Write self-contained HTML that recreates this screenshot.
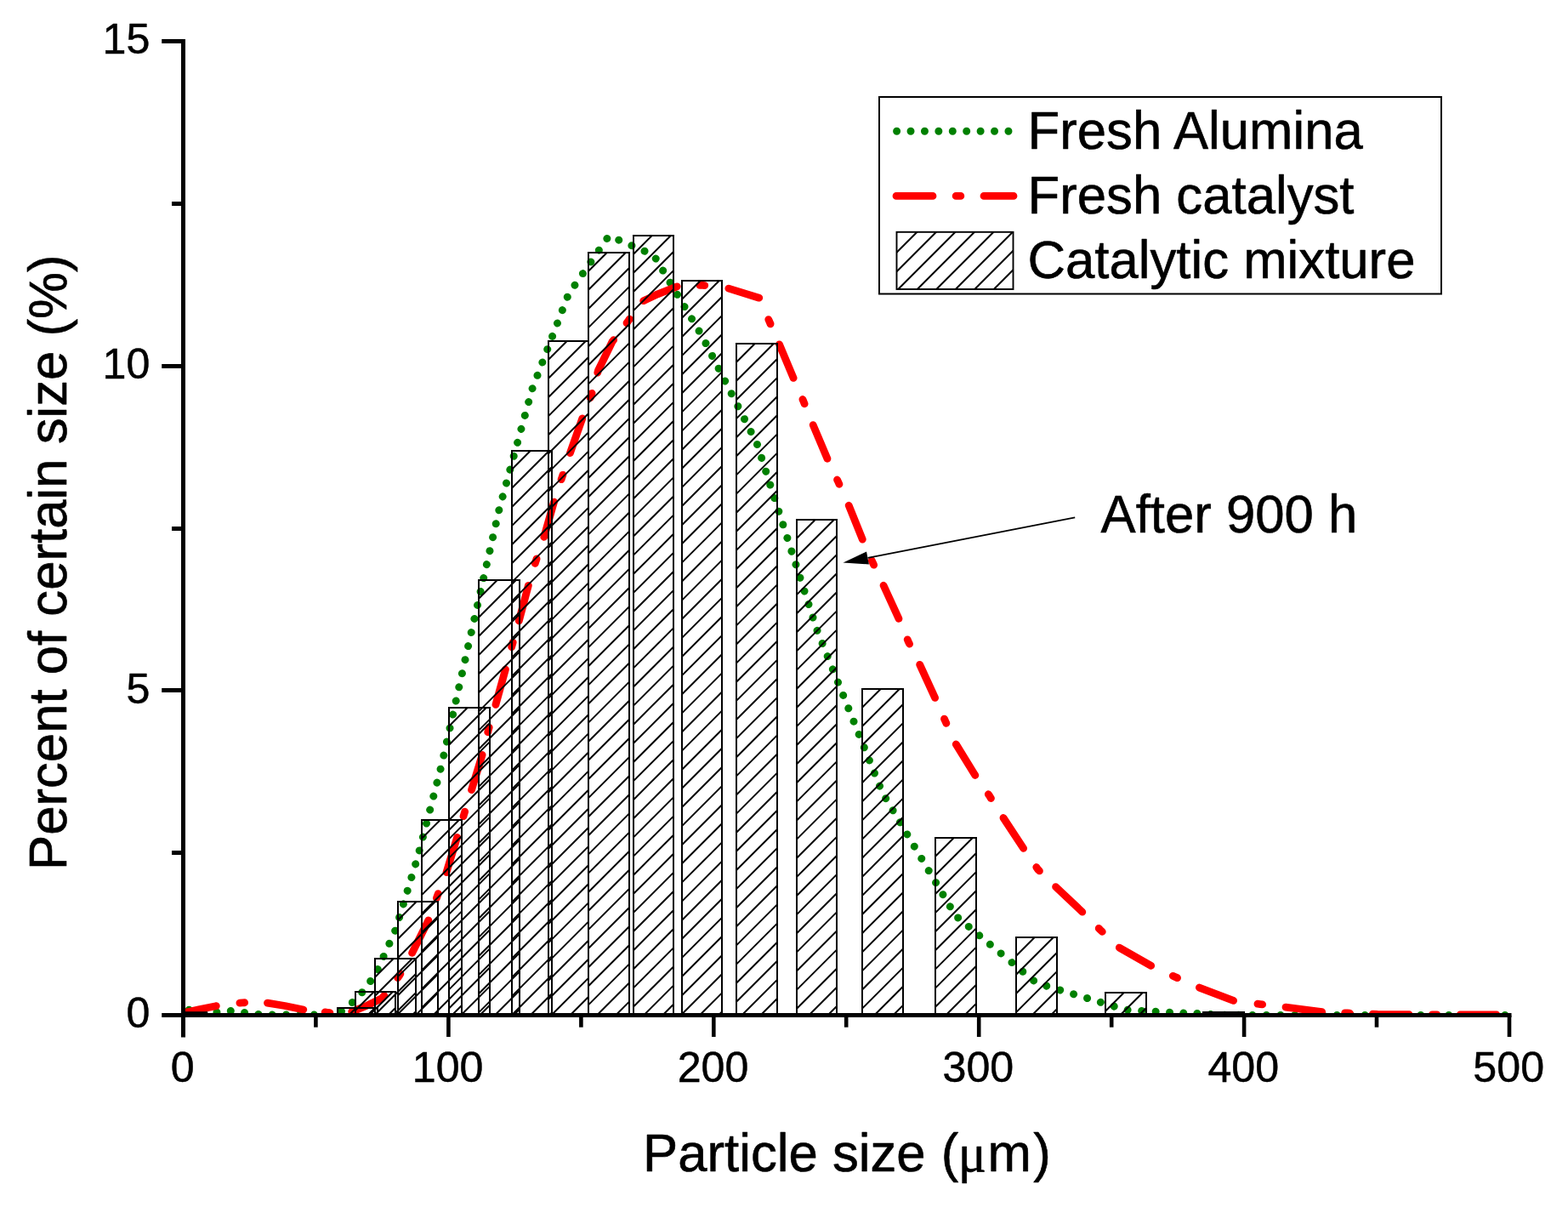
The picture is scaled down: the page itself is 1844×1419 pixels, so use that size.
<!DOCTYPE html>
<html lang="en"><head><meta charset="utf-8"><title>Particle size distribution</title>
<style>
html,body{margin:0;padding:0;background:#fff;}
body{width:1844px;height:1419px;overflow:hidden;}
svg{display:block;}
</style></head><body>
<svg width="1844" height="1419" viewBox="0 0 1844 1419">
<rect x="0" y="0" width="1844" height="1419" fill="#fff"/>
<defs><clipPath id="plot"><rect x="215.5" y="0" width="1561.5" height="1194.5"/></clipPath></defs>
<g clip-path="url(#plot)" fill="none" stroke-linecap="round" stroke-linejoin="round">
<path d="M215.5,1186.6 L222.4,1187.2 L239.0,1189.0 L255.3,1190.0 L271.3,1188.5 L287.6,1190.5 L303.9,1192.4 L320.4,1193.0 L336.7,1193.0 L369.2,1193.0 L385.0,1192.6 L401.5,1189.0 L420.5,1173.6 L441.4,1146.0 L465.2,1093.0 L491.4,1007.0 L519.5,898.7 L552.0,753.4 L587.0,599.0 L625.7,457.8 L668.5,346.0 L716.1,277.2 L768.7,299.8 L825.6,395.0 L890.0,521.0 L960.5,740.0 L1037.7,932.0 L1123.7,1076.5 L1218.7,1155.5 L1323.7,1187.2 L1343.0,1188.4 L1359.4,1189.2 L1375.5,1190.2 L1392.4,1191.1 L1408.4,1191.4 L1425.0,1192.6 L1438.7,1193.2 L1471.0,1193.4 L1775.0,1193.5" stroke="#008000" stroke-width="9" stroke-dasharray="0.01 16.37 0.01 16.37 0.01 16.43 0.01 16.40 0.01 16.35 0.01 16.30 0.01 16.39 0.01 16.43 0.01 16.37 0.01 16.22 0.01 16.32 0.01 16.50 0.01 16.56 0.01 16.51 0.01 16.48 0.01 16.61 0.01 16.57 0.01 16.55 0.01 16.41 0.01 16.36 0.01 16.37 0.01 16.36 0.01 16.36 0.01 16.53 0.01 16.48 0.01 16.49 0.01 16.52 0.01 16.50 0.01 16.45 0.01 16.48 0.01 16.51 0.01 16.43 0.01 16.41 0.01 16.39 0.01 16.42 0.01 16.54 0.01 16.50 0.01 16.43 0.01 16.50 0.01 16.44 0.01 16.46 0.01 16.40 0.01 16.36 0.01 16.32 0.01 16.34 0.01 16.35 0.01 16.38 0.01 16.36 0.01 16.38 0.01 16.44 0.01 16.46 0.01 16.41 0.01 16.47 0.01 16.50 0.01 16.52 0.01 16.51 0.01 16.45 0.01 16.43 0.01 16.50 0.01 16.41 0.01 16.41 0.01 16.37 0.01 16.43 0.01 16.46 0.01 16.54 0.01 16.52 0.01 16.56 0.01 16.63 0.01 16.69 0.01 16.67 0.01 16.58 0.01 16.51 0.01 16.44 0.01 16.53 0.01 16.41 0.01 16.40 0.01 16.47 0.01 16.55 0.01 16.57 0.01 16.63 0.01 16.56 0.01 16.61 0.01 16.62 0.01 16.53 0.01 16.60 0.01 16.76 0.01 16.82 0.01 16.69 0.01 16.74 0.01 16.63 0.01 16.67 0.01 16.57 0.01 16.35 0.01 16.39 0.01 16.39 0.01 16.39 0.01 16.47 0.01 16.40 0.01 16.33 0.01 16.44 0.01 16.25 0.01 16.33 0.01 16.15 0.01 16.28 0.01 16.31 0.01 16.43 0.01 16.46 0.01 16.47 0.01 16.51 0.01 16.61 0.01 16.46 0.01 16.47 0.01 16.35 0.01 16.23 0.01 16.31 0.01 16.30 0.01 16.37 0.01 16.29 0.01 16.46 0.01 16.52 0.01 16.55 0.01 16.51 0.01 16.38 0.01 16.29 0.01 16.42 0.01 16.30 0.01 16.34 0.01 16.32 0.01 16.36 0.01 16.54 0.01 16.73 0.01 16.67 0.01 16.64 0.01 16.58 0.01 16.67 0.01 16.63 0.01 16.64 0.01 16.52 0.01 16.51 0.01 16.51 0.01 16.59 0.01 16.50 0.01 16.41 0.01 16.22 0.01 16.09 0.01 15.99 0.01 16.42 0.01 16.37 0.01 16.28 0.01 16.43 0.01 16.58 0.01 16.74 0.01 16.83 0.01 16.38 0.01 16.34 0.01 16.47 0.01 16.42 0.01 16.38 0.01 16.36 0.01 16.41 0.01 16.45 0.01 16.48 0.01 16.50 0.01 16.53 0.01 16.51 0.01 16.51 0.01 16.50 0.01 5000" stroke-dashoffset="-6.87"/>
<path d="M215.5,1191.0 L235.0,1186.5 L254.0,1182.7 L270.0,1180.0 L285.0,1178.8 L300.0,1178.6 L314.0,1179.0 L335.0,1182.5 L357.0,1187.0 L386.5,1190.5 L400.0,1191.3 L414.7,1189.1 L432.0,1182.0 L449.4,1173.5 L469.4,1147.4 L484.1,1121.4 L504.1,1081.5 L514.5,1052.8 L524.9,1025.9 L537.9,983.4 L544.9,960.0 L567.6,886.0 L574.5,857.5 L583.2,827.5 L594.5,786.7 L602.3,758.4 L610.9,727.7 L621.3,688.6 L629.7,661.0 L639.8,631.3 L651.9,588.8 L661.0,561.0 L670.2,533.3 L684.9,491.6 L695.7,463.8 L703.5,435.5 L720.0,401.7 L738.0,378.5 L755.0,354.5 L773.4,345.8 L796.7,336.6 L826.6,335.3 L855.9,338.8 L892.8,350.2 L904.3,376.8 L916.2,404.2 L933.7,445.8 L944.9,471.8 L956.2,499.6 L973.2,539.8 L985.5,566.0 L998.0,593.8 L1014.5,634.6 L1026.6,662.0 L1038.7,687.5 L1057.0,727.4 L1068.2,754.3 L1081.3,780.5 L1099.7,820.7 L1111.8,848.0 L1124.0,874.5 L1146.5,911.0 L1163.9,936.1 L1180.0,961.5 L1204.0,998.0 L1220.5,1022.0 L1240.5,1041.6 L1273.5,1072.8 L1293.9,1093.1 L1316.0,1113.9 L1355.0,1136.1 L1380.8,1148.0 L1409.8,1160.8 L1452.1,1177.0 L1482.0,1180.6 L1512.0,1184.1 L1555.7,1189.7 L1584.6,1191.0 L1620.0,1192.5 L1700.0,1193.0 L1775.0,1193.0" stroke="#ff0000" stroke-width="8.8" stroke-dasharray="39.7 27.9 5.7 26.9 43.0 25.6 5.7 26.0 43.0 26.2 5.7 28.0 43.0 27.7 5.7 26.9 43.0 25.8 5.7 26.8 43.0 27.6 5.7 27.9 43.0 27.3 5.7 26.2 43.0 27.2 5.7 27.0 43.0 27.7 5.7 27.2 43.0 26.0 5.7 25.1 43.0 25.1 5.7 27.2 43.0 26.9 5.7 28.4 37.5 27.8 5.7 26.1 43.0 27.3 5.7 26.8 43.0 27.4 5.7 27.4 43.0 27.2 5.7 26.7 43.0 26.6 5.7 27.1 43.0 27.0 5.7 27.1 43.0 27.1 5.7 27.2 43.0 26.8 5.7 26.8 43.0 27.3 5.7 27.4 43.0 28.3 5.7 28.3 43.0 28.7 5.7 27.6 43.0 27.0 5.7 26.9 43.0 27.0 5.7 27.1 43.0 5000.0"/>
</g>
<g fill="none" stroke="#000">
<rect x="218" y="1189.2" width="26.3" height="3" fill="#000" stroke="none"/>
<path d="M410.2,1193.5L418.7,1185.0M432.3,1193.5L440.8,1185.0" stroke-width="2.00"/>
<rect x="397.0" y="1185.0" width="47.0" height="8.5" stroke-width="2.00"/>
<path d="M418.0,1187.7L439.7,1166.0M434.3,1193.5L461.8,1166.0M456.5,1193.5L465.0,1185.0" stroke-width="2.00"/>
<rect x="418.0" y="1166.0" width="47.0" height="27.5" stroke-width="2.00"/>
<path d="M441.0,1148.7L462.7,1127.0M441.0,1170.8L484.8,1127.0M441.0,1193.0L489.0,1145.0M462.6,1193.5L489.0,1167.1M484.7,1193.5L489.0,1189.2" stroke-width="2.00"/>
<rect x="441.0" y="1127.0" width="48.0" height="66.5" stroke-width="2.00"/>
<path d="M468.0,1081.7L489.7,1060.0M468.0,1103.8L511.8,1060.0M468.0,1126.0L515.0,1079.0M468.0,1148.1L515.0,1101.1M468.0,1170.2L515.0,1123.2M468.0,1192.3L515.0,1145.3M488.9,1193.5L515.0,1167.4M511.1,1193.5L515.0,1189.6" stroke-width="2.00"/>
<rect x="468.0" y="1060.0" width="47.0" height="133.5" stroke-width="2.00"/>
<path d="M496.0,985.7L517.7,964.0M496.0,1007.8L539.8,964.0M496.0,1030.0L543.0,983.0M496.0,1052.1L543.0,1005.1M496.0,1074.2L543.0,1027.2M496.0,1096.3L543.0,1049.3M496.0,1118.4L543.0,1071.4M496.0,1140.6L543.0,1093.6M496.0,1162.7L543.0,1115.7M496.0,1184.8L543.0,1137.8M509.4,1193.5L543.0,1159.9M531.5,1193.5L543.0,1182.0" stroke-width="2.00"/>
<rect x="496.0" y="964.0" width="47.0" height="229.5" stroke-width="2.00"/>
<path d="M528.0,853.7L549.7,832.0M528.0,875.8L571.8,832.0M528.0,898.0L576.0,850.0M528.0,920.1L576.0,872.1M528.0,942.2L576.0,894.2M528.0,964.3L576.0,916.3M528.0,986.4L576.0,938.4M528.0,1008.6L576.0,960.6M528.0,1030.7L576.0,982.7M528.0,1052.8L576.0,1004.8M528.0,1074.9L576.0,1026.9M528.0,1097.0L576.0,1049.0M528.0,1119.2L576.0,1071.2M528.0,1141.3L576.0,1093.3M528.0,1163.4L576.0,1115.4M528.0,1185.5L576.0,1137.5M542.1,1193.5L576.0,1159.6M564.3,1193.5L576.0,1181.8" stroke-width="2.00"/>
<rect x="528.0" y="832.0" width="48.0" height="361.5" stroke-width="2.00"/>
<path d="M563.0,703.7L584.7,682.0M563.0,725.8L606.8,682.0M563.0,748.0L611.0,700.0M563.0,770.1L611.0,722.1M563.0,792.2L611.0,744.2M563.0,814.3L611.0,766.3M563.0,836.4L611.0,788.4M563.0,858.6L611.0,810.6M563.0,880.7L611.0,832.7M563.0,902.8L611.0,854.8M563.0,924.9L611.0,876.9M563.0,947.0L611.0,899.0M563.0,969.2L611.0,921.2M563.0,991.3L611.0,943.3M563.0,1013.4L611.0,965.4M563.0,1035.5L611.0,987.5M563.0,1057.6L611.0,1009.6M563.0,1079.8L611.0,1031.8M563.0,1101.9L611.0,1053.9M563.0,1124.0L611.0,1076.0M563.0,1146.1L611.0,1098.1M563.0,1168.2L611.0,1120.2M563.0,1190.4L611.0,1142.4M582.0,1193.5L611.0,1164.5M604.1,1193.5L611.0,1186.6" stroke-width="2.00"/>
<rect x="563.0" y="682.0" width="48.0" height="511.5" stroke-width="2.00"/>
<path d="M602.0,551.7L623.7,530.0M602.0,573.8L645.8,530.0M602.0,596.0L649.0,549.0M602.0,618.1L649.0,571.1M602.0,640.2L649.0,593.2M602.0,662.3L649.0,615.3M602.0,684.4L649.0,637.4M602.0,706.6L649.0,659.6M602.0,728.7L649.0,681.7M602.0,750.8L649.0,703.8M602.0,772.9L649.0,725.9M602.0,795.0L649.0,748.0M602.0,817.2L649.0,770.2M602.0,839.3L649.0,792.3M602.0,861.4L649.0,814.4M602.0,883.5L649.0,836.5M602.0,905.6L649.0,858.6M602.0,927.8L649.0,880.8M602.0,949.9L649.0,902.9M602.0,972.0L649.0,925.0M602.0,994.1L649.0,947.1M602.0,1016.2L649.0,969.2M602.0,1038.4L649.0,991.4M602.0,1060.5L649.0,1013.5M602.0,1082.6L649.0,1035.6M602.0,1104.7L649.0,1057.7M602.0,1126.8L649.0,1079.8M602.0,1149.0L649.0,1102.0M602.0,1171.1L649.0,1124.1M602.0,1193.2L649.0,1146.2M623.8,1193.5L649.0,1168.3M645.9,1193.5L649.0,1190.4" stroke-width="2.00"/>
<rect x="602.0" y="530.0" width="47.0" height="663.5" stroke-width="2.00"/>
<path d="M645.0,422.7L666.7,401.0M645.0,444.8L688.8,401.0M645.0,467.0L692.0,420.0M645.0,489.1L692.0,442.1M645.0,511.2L692.0,464.2M645.0,533.3L692.0,486.3M645.0,555.4L692.0,508.4M645.0,577.6L692.0,530.6M645.0,599.7L692.0,552.7M645.0,621.8L692.0,574.8M645.0,643.9L692.0,596.9M645.0,666.0L692.0,619.0M645.0,688.2L692.0,641.2M645.0,710.3L692.0,663.3M645.0,732.4L692.0,685.4M645.0,754.5L692.0,707.5M645.0,776.6L692.0,729.6M645.0,798.8L692.0,751.8M645.0,820.9L692.0,773.9M645.0,843.0L692.0,796.0M645.0,865.1L692.0,818.1M645.0,887.2L692.0,840.2M645.0,909.4L692.0,862.4M645.0,931.5L692.0,884.5M645.0,953.6L692.0,906.6M645.0,975.7L692.0,928.7M645.0,997.8L692.0,950.8M645.0,1020.0L692.0,973.0M645.0,1042.1L692.0,995.1M645.0,1064.2L692.0,1017.2M645.0,1086.3L692.0,1039.3M645.0,1108.4L692.0,1061.4M645.0,1130.6L692.0,1083.6M645.0,1152.7L692.0,1105.7M645.0,1174.8L692.0,1127.8M648.4,1193.5L692.0,1149.9M670.5,1193.5L692.0,1172.0" stroke-width="2.00"/>
<rect x="645.0" y="401.0" width="47.0" height="792.5" stroke-width="2.00"/>
<path d="M692.0,318.7L713.7,297.0M692.0,340.8L735.8,297.0M692.0,363.0L740.0,315.0M692.0,385.1L740.0,337.1M692.0,407.2L740.0,359.2M692.0,429.3L740.0,381.3M692.0,451.4L740.0,403.4M692.0,473.6L740.0,425.6M692.0,495.7L740.0,447.7M692.0,517.8L740.0,469.8M692.0,539.9L740.0,491.9M692.0,562.0L740.0,514.0M692.0,584.2L740.0,536.2M692.0,606.3L740.0,558.3M692.0,628.4L740.0,580.4M692.0,650.5L740.0,602.5M692.0,672.6L740.0,624.6M692.0,694.8L740.0,646.8M692.0,716.9L740.0,668.9M692.0,739.0L740.0,691.0M692.0,761.1L740.0,713.1M692.0,783.2L740.0,735.2M692.0,805.4L740.0,757.4M692.0,827.5L740.0,779.5M692.0,849.6L740.0,801.6M692.0,871.7L740.0,823.7M692.0,893.8L740.0,845.8M692.0,916.0L740.0,868.0M692.0,938.1L740.0,890.1M692.0,960.2L740.0,912.2M692.0,982.3L740.0,934.3M692.0,1004.4L740.0,956.4M692.0,1026.6L740.0,978.6M692.0,1048.7L740.0,1000.7M692.0,1070.8L740.0,1022.8M692.0,1092.9L740.0,1044.9M692.0,1115.0L740.0,1067.0M692.0,1137.2L740.0,1089.2M692.0,1159.3L740.0,1111.3M692.0,1181.4L740.0,1133.4M702.0,1193.5L740.0,1155.5M724.1,1193.5L740.0,1177.6" stroke-width="2.00"/>
<rect x="692.0" y="297.0" width="48.0" height="896.5" stroke-width="2.00"/>
<path d="M745.0,298.7L766.7,277.0M745.0,320.8L788.8,277.0M745.0,343.0L792.0,296.0M745.0,365.1L792.0,318.1M745.0,387.2L792.0,340.2M745.0,409.3L792.0,362.3M745.0,431.4L792.0,384.4M745.0,453.6L792.0,406.6M745.0,475.7L792.0,428.7M745.0,497.8L792.0,450.8M745.0,519.9L792.0,472.9M745.0,542.0L792.0,495.0M745.0,564.2L792.0,517.2M745.0,586.3L792.0,539.3M745.0,608.4L792.0,561.4M745.0,630.5L792.0,583.5M745.0,652.6L792.0,605.6M745.0,674.8L792.0,627.8M745.0,696.9L792.0,649.9M745.0,719.0L792.0,672.0M745.0,741.1L792.0,694.1M745.0,763.2L792.0,716.2M745.0,785.4L792.0,738.4M745.0,807.5L792.0,760.5M745.0,829.6L792.0,782.6M745.0,851.7L792.0,804.7M745.0,873.8L792.0,826.8M745.0,896.0L792.0,849.0M745.0,918.1L792.0,871.1M745.0,940.2L792.0,893.2M745.0,962.3L792.0,915.3M745.0,984.4L792.0,937.4M745.0,1006.6L792.0,959.6M745.0,1028.7L792.0,981.7M745.0,1050.8L792.0,1003.8M745.0,1072.9L792.0,1025.9M745.0,1095.0L792.0,1048.0M745.0,1117.2L792.0,1070.2M745.0,1139.3L792.0,1092.3M745.0,1161.4L792.0,1114.4M745.0,1183.5L792.0,1136.5M757.1,1193.5L792.0,1158.6M779.3,1193.5L792.0,1180.8" stroke-width="2.00"/>
<rect x="745.0" y="277.0" width="47.0" height="916.5" stroke-width="2.00"/>
<path d="M802.0,351.7L823.7,330.0M802.0,373.8L845.8,330.0M802.0,396.0L849.0,349.0M802.0,418.1L849.0,371.1M802.0,440.2L849.0,393.2M802.0,462.3L849.0,415.3M802.0,484.4L849.0,437.4M802.0,506.6L849.0,459.6M802.0,528.7L849.0,481.7M802.0,550.8L849.0,503.8M802.0,572.9L849.0,525.9M802.0,595.0L849.0,548.0M802.0,617.2L849.0,570.2M802.0,639.3L849.0,592.3M802.0,661.4L849.0,614.4M802.0,683.5L849.0,636.5M802.0,705.6L849.0,658.6M802.0,727.8L849.0,680.8M802.0,749.9L849.0,702.9M802.0,772.0L849.0,725.0M802.0,794.1L849.0,747.1M802.0,816.2L849.0,769.2M802.0,838.4L849.0,791.4M802.0,860.5L849.0,813.5M802.0,882.6L849.0,835.6M802.0,904.7L849.0,857.7M802.0,926.8L849.0,879.8M802.0,949.0L849.0,902.0M802.0,971.1L849.0,924.1M802.0,993.2L849.0,946.2M802.0,1015.3L849.0,968.3M802.0,1037.4L849.0,990.4M802.0,1059.6L849.0,1012.6M802.0,1081.7L849.0,1034.7M802.0,1103.8L849.0,1056.8M802.0,1125.9L849.0,1078.9M802.0,1148.0L849.0,1101.0M802.0,1170.2L849.0,1123.2M802.0,1192.3L849.0,1145.3M822.9,1193.5L849.0,1167.4M845.0,1193.5L849.0,1189.5" stroke-width="2.00"/>
<rect x="802.0" y="330.0" width="47.0" height="863.5" stroke-width="2.00"/>
<path d="M866.0,425.7L887.7,404.0M866.0,447.8L909.8,404.0M866.0,470.0L914.0,422.0M866.0,492.1L914.0,444.1M866.0,514.2L914.0,466.2M866.0,536.3L914.0,488.3M866.0,558.4L914.0,510.4M866.0,580.6L914.0,532.6M866.0,602.7L914.0,554.7M866.0,624.8L914.0,576.8M866.0,646.9L914.0,598.9M866.0,669.0L914.0,621.0M866.0,691.2L914.0,643.2M866.0,713.3L914.0,665.3M866.0,735.4L914.0,687.4M866.0,757.5L914.0,709.5M866.0,779.6L914.0,731.6M866.0,801.8L914.0,753.8M866.0,823.9L914.0,775.9M866.0,846.0L914.0,798.0M866.0,868.1L914.0,820.1M866.0,890.2L914.0,842.2M866.0,912.4L914.0,864.4M866.0,934.5L914.0,886.5M866.0,956.6L914.0,908.6M866.0,978.7L914.0,930.7M866.0,1000.8L914.0,952.8M866.0,1023.0L914.0,975.0M866.0,1045.1L914.0,997.1M866.0,1067.2L914.0,1019.2M866.0,1089.3L914.0,1041.3M866.0,1111.4L914.0,1063.4M866.0,1133.6L914.0,1085.6M866.0,1155.7L914.0,1107.7M866.0,1177.8L914.0,1129.8M872.4,1193.5L914.0,1151.9M894.5,1193.5L914.0,1174.0" stroke-width="2.00"/>
<rect x="866.0" y="404.0" width="48.0" height="789.5" stroke-width="2.00"/>
<path d="M937.0,632.7L958.7,611.0M937.0,654.8L980.8,611.0M937.0,677.0L984.0,630.0M937.0,699.1L984.0,652.1M937.0,721.2L984.0,674.2M937.0,743.3L984.0,696.3M937.0,765.4L984.0,718.4M937.0,787.6L984.0,740.6M937.0,809.7L984.0,762.7M937.0,831.8L984.0,784.8M937.0,853.9L984.0,806.9M937.0,876.0L984.0,829.0M937.0,898.2L984.0,851.2M937.0,920.3L984.0,873.3M937.0,942.4L984.0,895.4M937.0,964.5L984.0,917.5M937.0,986.6L984.0,939.6M937.0,1008.8L984.0,961.8M937.0,1030.9L984.0,983.9M937.0,1053.0L984.0,1006.0M937.0,1075.1L984.0,1028.1M937.0,1097.2L984.0,1050.2M937.0,1119.4L984.0,1072.4M937.0,1141.5L984.0,1094.5M937.0,1163.6L984.0,1116.6M937.0,1185.7L984.0,1138.7M951.3,1193.5L984.0,1160.8M973.5,1193.5L984.0,1183.0" stroke-width="2.00"/>
<rect x="937.0" y="611.0" width="47.0" height="582.5" stroke-width="2.00"/>
<path d="M1014.0,831.7L1035.7,810.0M1014.0,853.8L1057.8,810.0M1014.0,876.0L1062.0,828.0M1014.0,898.1L1062.0,850.1M1014.0,920.2L1062.0,872.2M1014.0,942.3L1062.0,894.3M1014.0,964.4L1062.0,916.4M1014.0,986.6L1062.0,938.6M1014.0,1008.7L1062.0,960.7M1014.0,1030.8L1062.0,982.8M1014.0,1052.9L1062.0,1004.9M1014.0,1075.0L1062.0,1027.0M1014.0,1097.2L1062.0,1049.2M1014.0,1119.3L1062.0,1071.3M1014.0,1141.4L1062.0,1093.4M1014.0,1163.5L1062.0,1115.5M1014.0,1185.6L1062.0,1137.6M1028.3,1193.5L1062.0,1159.8M1050.4,1193.5L1062.0,1181.9" stroke-width="2.00"/>
<rect x="1014.0" y="810.0" width="48.0" height="383.5" stroke-width="2.00"/>
<path d="M1100.0,1006.7L1121.7,985.0M1100.0,1028.8L1143.8,985.0M1100.0,1051.0L1148.0,1003.0M1100.0,1073.1L1148.0,1025.1M1100.0,1095.2L1148.0,1047.2M1100.0,1117.3L1148.0,1069.3M1100.0,1139.4L1148.0,1091.4M1100.0,1161.6L1148.0,1113.6M1100.0,1183.7L1148.0,1135.7M1112.3,1193.5L1148.0,1157.8M1134.4,1193.5L1148.0,1179.9" stroke-width="2.00"/>
<rect x="1100.0" y="985.0" width="48.0" height="208.5" stroke-width="2.00"/>
<path d="M1195.0,1123.7L1216.7,1102.0M1195.0,1145.8L1238.8,1102.0M1195.0,1168.0L1243.0,1120.0M1195.0,1190.1L1243.0,1142.1M1213.7,1193.5L1243.0,1164.2M1235.8,1193.5L1243.0,1186.3" stroke-width="2.00"/>
<rect x="1195.0" y="1102.0" width="48.0" height="91.5" stroke-width="2.00"/>
<path d="M1300.0,1188.7L1321.7,1167.0M1317.3,1193.5L1343.8,1167.0M1339.5,1193.5L1348.0,1185.0" stroke-width="2.00"/>
<rect x="1300.0" y="1167.0" width="48.0" height="26.5" stroke-width="2.00"/>
<path d="M1433.2,1193.5L1436.7,1190.0M1455.3,1193.5L1458.8,1190.0" stroke-width="2.00"/>
<rect x="1414.0" y="1189.0" width="50.0" height="4.5" fill="#000" stroke="none"/>
</g>
<g stroke="#000" stroke-width="5" fill="none">
<path d="M215.5,46.0 V1219.5"/>
<path d="M190.2,1193.5 H1777.5"/>
<path d="M190.2,811.5 H215.5"/>
<path d="M190.2,430.5 H215.5"/>
<path d="M190.2,48.5 H215.5"/>
<path d="M202.0,1002.5 H215.5"/>
<path d="M202.0,621.5 H215.5"/>
<path d="M202.0,239.5 H215.5"/>
<path d="M527.4,1193.5 V1219.0" stroke-width="4.6"/>
<path d="M839.3,1193.5 V1219.0" stroke-width="4.6"/>
<path d="M1151.2,1193.5 V1219.0" stroke-width="4.6"/>
<path d="M1463.1,1193.5 V1219.0" stroke-width="4.6"/>
<path d="M1775.0,1193.5 V1219.0" stroke-width="4.6"/>
<path d="M371.4,1193.5 V1207.7" stroke-width="4.6"/>
<path d="M683.4,1193.5 V1207.7" stroke-width="4.6"/>
<path d="M995.2,1193.5 V1207.7" stroke-width="4.6"/>
<path d="M1307.2,1193.5 V1207.7" stroke-width="4.6"/>
<path d="M1619.0,1193.5 V1207.7" stroke-width="4.6"/>
</g>
<g font-family='"Liberation Sans", Arial, Helvetica, sans-serif' font-size="50.2" fill="#000" stroke="#000" stroke-width="0.5" stroke-linejoin="round">
<text transform="translate(176.3,1208.3) scale(1,0.99)" x="0" y="0" text-anchor="end">0</text>
<text transform="translate(176.3,826.6) scale(1,0.99)" x="0" y="0" text-anchor="end">5</text>
<text transform="translate(176.3,445.0) scale(1,0.99)" x="0" y="0" text-anchor="end">10</text>
<text transform="translate(176.3,63.3) scale(1,0.99)" x="0" y="0" text-anchor="end">15</text>
<text transform="translate(214.7,1272.4) scale(1,0.99)" x="0" y="0" text-anchor="middle">0</text>
<text transform="translate(526.6,1272.4) scale(1,0.99)" x="0" y="0" text-anchor="middle">100</text>
<text transform="translate(838.5,1272.4) scale(1,0.99)" x="0" y="0" text-anchor="middle">200</text>
<text transform="translate(1150.4,1272.4) scale(1,0.99)" x="0" y="0" text-anchor="middle">300</text>
<text transform="translate(1462.3,1272.4) scale(1,0.99)" x="0" y="0" text-anchor="middle">400</text>
<text transform="translate(1774.2,1272.4) scale(1,0.99)" x="0" y="0" text-anchor="middle">500</text>
</g>
<g font-family='"Liberation Sans", Arial, Helvetica, sans-serif' font-size="61.7" fill="#000" stroke="#000" stroke-width="0.6" stroke-linejoin="round">
<text transform="translate(0,1377.1) scale(1,1.025)" y="0"><tspan x="756.1">Particle size </tspan><tspan dx="0.9">(</tspan><tspan x="1126.7" font-size="62" font-family='"Liberation Serif", "DejaVu Serif", serif'>μ</tspan><tspan x="1161.5">m</tspan><tspan dx="2.4">)</tspan></text>
<text transform="translate(77.9,1023) rotate(-90) scale(1,1.03)" x="0" y="0">Percent of certain size (%)</text>
<rect x="1034" y="114" width="661" height="231.5" fill="#fff" stroke="#000" stroke-width="2" stroke-linejoin="miter"/>
<text transform="translate(1208.5,174.8) scale(1,1.025)" x="0" y="0">Fresh Alumina</text>
<text transform="translate(1208.5,250.9) scale(1,1.025)" x="0" y="0">Fresh catalyst</text>
<text transform="translate(1208.5,327.1) scale(1,1.025)" x="0" y="0">Catalytic mixture</text>
<text transform="translate(1294.5,625.9) scale(1,1.025)" x="0" y="0">After 900 h</text>
</g>
<path d="M1054.6,154.3 H1190" fill="none" stroke="#008000" stroke-width="9" stroke-linecap="round" stroke-dasharray="0.01 16.41"/>
<path d="M1054,230.4 H1192" fill="none" stroke="#ff0000" stroke-width="8.8" stroke-linecap="round" stroke-dasharray="43.00 27.15 5.70 27.15"/>
<path d="M1054.5,296.8L1078.5,272.8M1054.5,319.3L1101.0,272.8M1056.3,340.0L1123.5,272.8M1078.8,340.0L1146.0,272.8M1101.3,340.0L1168.5,272.8M1123.8,340.0L1191.0,272.8M1146.3,340.0L1191.5,294.8M1168.8,340.0L1191.5,317.3M1191.3,340.0L1191.5,339.8" fill="none" stroke="#000" stroke-width="2.00"/>
<rect x="1054.5" y="272.8" width="137.0" height="67.2" fill="none" stroke="#000" stroke-width="1.9"/>
<path d="M1264.2,608.3 L1020.5,655.9" stroke="#000" stroke-width="1.7" fill="none"/>
<path d="M991.5,661.6 L1021.9,663.4 L1019.0,648.5 Z" fill="#000"/>
</svg>
</body></html>
